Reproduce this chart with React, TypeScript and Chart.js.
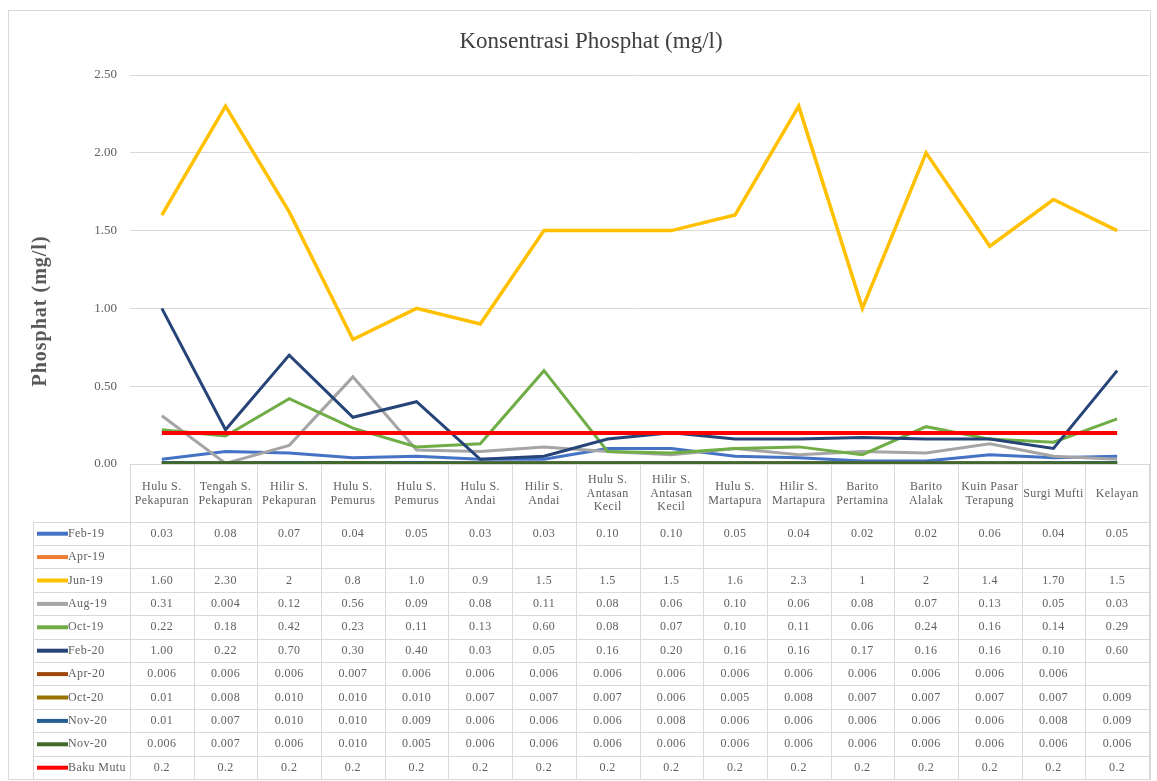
import React, { useEffect, useRef } from "react";
import { Chart, registerables } from "chart.js";

Chart.register(...registerables);

const FONT = "'Liberation Serif', 'DejaVu Serif', serif";

const categories: string[][] = [
  ["Hulu S.", "Pekapuran"],
  ["Tengah S.", "Pekapuran"],
  ["Hilir S.", "Pekapuran"],
  ["Hulu S.", "Pemurus"],
  ["Hulu S.", "Pemurus"],
  ["Hulu S.", "Andai"],
  ["Hilir S.", "Andai"],
  ["Hulu S.", "Antasan", "Kecil"],
  ["Hilir S.", "Antasan", "Kecil"],
  ["Hulu S.", "Martapura"],
  ["Hilir S.", "Martapura"],
  ["Barito", "Pertamina"],
  ["Barito", "Alalak"],
  ["Kuin Pasar", "Terapung"],
  ["Surgi Mufti"],
  ["Kelayan"],
];

const yTicks = [0, 0.5, 1.0, 1.5, 2.0, 2.5];

// Table cell texts, as printed in the data table
const feb19 = ["0.03", "0.08", "0.07", "0.04", "0.05", "0.03", "0.03", "0.10", "0.10", "0.05", "0.04", "0.02", "0.02", "0.06", "0.04", "0.05"];
const apr19 = ["", "", "", "", "", "", "", "", "", "", "", "", "", "", "", ""];
const jun19 = ["1.60", "2.30", "2", "0.8", "1.0", "0.9", "1.5", "1.5", "1.5", "1.6", "2.3", "1", "2", "1.4", "1.70", "1.5"];
const aug19 = ["0.31", "0.004", "0.12", "0.56", "0.09", "0.08", "0.11", "0.08", "0.06", "0.10", "0.06", "0.08", "0.07", "0.13", "0.05", "0.03"];
const oct19 = ["0.22", "0.18", "0.42", "0.23", "0.11", "0.13", "0.60", "0.08", "0.07", "0.10", "0.11", "0.06", "0.24", "0.16", "0.14", "0.29"];
const feb20 = ["1.00", "0.22", "0.70", "0.30", "0.40", "0.03", "0.05", "0.16", "0.20", "0.16", "0.16", "0.17", "0.16", "0.16", "0.10", "0.60"];
const apr20 = ["0.006", "0.006", "0.006", "0.007", "0.006", "0.006", "0.006", "0.006", "0.006", "0.006", "0.006", "0.006", "0.006", "0.006", "0.006", ""];
const oct20 = ["0.01", "0.008", "0.010", "0.010", "0.010", "0.007", "0.007", "0.007", "0.006", "0.005", "0.008", "0.007", "0.007", "0.007", "0.007", "0.009"];
const nov20a = ["0.01", "0.007", "0.010", "0.010", "0.009", "0.006", "0.006", "0.006", "0.008", "0.006", "0.006", "0.006", "0.006", "0.006", "0.008", "0.009"];
const nov20b = ["0.006", "0.007", "0.006", "0.010", "0.005", "0.006", "0.006", "0.006", "0.006", "0.006", "0.006", "0.006", "0.006", "0.006", "0.006", "0.006"];
const bakuMutu = ["0.2", "0.2", "0.2", "0.2", "0.2", "0.2", "0.2", "0.2", "0.2", "0.2", "0.2", "0.2", "0.2", "0.2", "0.2", "0.2"];

// Jun-19 plotted values (the table rounds some of them; the plotted line shows ~1.62 at Hilir S. Pekapuran)
const jun19Plot = [1.6, 2.3, 1.62, 0.8, 1.0, 0.9, 1.5, 1.5, 1.5, 1.6, 2.3, 1.0, 2.0, 1.4, 1.7, 1.5];

const seriesNames = ["Feb-19", "Apr-19", "Jun-19", "Aug-19", "Oct-19", "Feb-20", "Apr-20", "Oct-20", "Nov-20", "Nov-20", "Baku Mutu"];
const seriesLabels = [feb19, apr19, jun19, aug19, oct19, feb20, apr20, oct20, nov20a, nov20b, bakuMutu];
const seriesColors = ["#4472C4", "#ED7D31", "#FFC000", "#A5A5A5", "#70AD47", "#264478", "#9E480E", "#997300", "#255E91", "#43682B", "#FF0000"];
const seriesWidths = [3, 3, 3.5, 3, 3, 3, 3, 3, 3, 3, 4];

const toNum = (s: string) => (s === "" ? null : Number(s));
const seriesData = seriesLabels.map((row, i) => (i === 2 ? jun19Plot : row.map(toNum)));

const tablePlugin = {
  id: "tablePlugin",
  beforeDatasetsDraw(chart: any) {
    const ctx = chart.ctx as CanvasRenderingContext2D;
    const ca = chart.chartArea;
    const n = categories.length;
    const colW = (ca.right - ca.left) / n;
    const headerBottom = 521.5;
    const rowH = 23.4;
    const tableLeft = 33;
    const tableBottom = headerBottom + rowH * seriesNames.length;
    ctx.save();
    ctx.strokeStyle = "#d9d9d9";
    ctx.lineWidth = 1;
    ctx.beginPath();
    ctx.moveTo(ca.left, ca.bottom + 0.5);
    ctx.lineTo(ca.right, ca.bottom + 0.5);
    for (let r = 0; r <= seriesNames.length; r++) {
      const y = Math.round(headerBottom + r * rowH) + 0.5;
      ctx.moveTo(tableLeft, y);
      ctx.lineTo(ca.right, y);
    }
    for (let i = 0; i <= n; i++) {
      const x = Math.round(ca.left + i * colW) + 0.5;
      ctx.moveTo(x, ca.bottom);
      ctx.lineTo(x, tableBottom);
    }
    ctx.moveTo(tableLeft + 0.5, headerBottom);
    ctx.lineTo(tableLeft + 0.5, tableBottom);
    ctx.stroke();

    (ctx as any).letterSpacing = "0.4px";
    ctx.fillStyle = "#606060";
    ctx.font = `12px ${FONT}`;
    ctx.textAlign = "center";
    ctx.textBaseline = "middle";
    const headerMid = (ca.bottom + headerBottom) / 2 + 1;
    const lh = 13.5;
    categories.forEach((lines, i) => {
      const cx = chart.scales.x.getPixelForValue(i);
      const start = headerMid - ((lines.length - 1) * lh) / 2;
      lines.forEach((t, k) => ctx.fillText(t, cx, start + k * lh));
    });

    seriesNames.forEach((name, r) => {
      const cy = headerBottom + r * rowH + rowH / 2 + 0.5;
      ctx.strokeStyle = seriesColors[r];
      ctx.lineWidth = 4;
      ctx.beginPath();
      ctx.moveTo(37, cy);
      ctx.lineTo(68, cy);
      ctx.stroke();
      ctx.fillStyle = "#606060";
      ctx.textAlign = "left";
      ctx.fillText(name, 68, cy);
      ctx.textAlign = "center";
      seriesLabels[r].forEach((v, i) => {
        const cx = chart.scales.x.getPixelForValue(i);
        ctx.fillText(v, cx, cy);
      });
    });
    ctx.restore();
  },
  afterDraw(chart: any) {
    const ctx = chart.ctx as CanvasRenderingContext2D;
    ctx.save();
    ctx.strokeStyle = "#d9d9d9";
    ctx.lineWidth = 1;
    ctx.strokeRect(8.5, 10.5, 1142, 769);
    ctx.fillStyle = "#404040";
    ctx.font = `23px ${FONT}`;
    ctx.textAlign = "center";
    ctx.textBaseline = "middle";
    ctx.fillText("Konsentrasi Phosphat (mg/l)", 591, 42);
    ctx.translate(41, 311);
    ctx.rotate(-Math.PI / 2);
    ctx.fillStyle = "#595959";
    (ctx as any).letterSpacing = "1px";
    ctx.font = `bold 20px ${FONT}`;
    ctx.fillText("Phosphat (mg/l)", 0, 0);
    ctx.restore();
  },
};

export default function App() {
  const ref = useRef<HTMLCanvasElement | null>(null);
  useEffect(() => {
    if (!ref.current) return;
    const n = seriesNames.length;
    const chart = new Chart(ref.current, {
      type: "line",
      data: {
        labels: categories.map((c) => c.join(" ")),
        datasets: seriesNames.map((name, i) => ({
          label: name,
          data: seriesData[i],
          borderColor: seriesColors[i],
          backgroundColor: seriesColors[i],
          borderWidth: seriesWidths[i],
          pointRadius: 0,
          tension: 0,
          fill: false,
          order: n - i,
        })),
      },
      options: {
        responsive: false,
        animation: false,
        layout: { padding: { left: 0, top: 75, right: 8, bottom: 317 } },
        plugins: {
          legend: { display: false },
          title: { display: false },
          tooltip: { enabled: false },
        },
        scales: {
          x: {
            type: "category",
            offset: true,
            display: false,
            grid: { display: false },
          },
          y: {
            min: 0,
            max: 2.5,
            afterFit: (scale: any) => {
              scale.width = 130;
            },
            afterBuildTicks: (scale: any) => {
              scale.ticks = yTicks.map((v) => ({ value: v }));
            },
            border: { display: false },
            grid: { color: "#d9d9d9", drawTicks: false, lineWidth: 1 },
            ticks: {
              padding: 13,
              color: "#606060",
              font: { family: FONT, size: 13 },
              callback: (v: any) => Number(v).toFixed(2),
            },
          },
        },
      },
      plugins: [tablePlugin],
    });
    return () => chart.destroy();
  }, []);
  return (
    <div style={{ position: "absolute", left: 0, top: 0, width: 1157, height: 781, background: "#fff" }}>
      <canvas ref={ref} width={1157} height={781} />
    </div>
  );
}
